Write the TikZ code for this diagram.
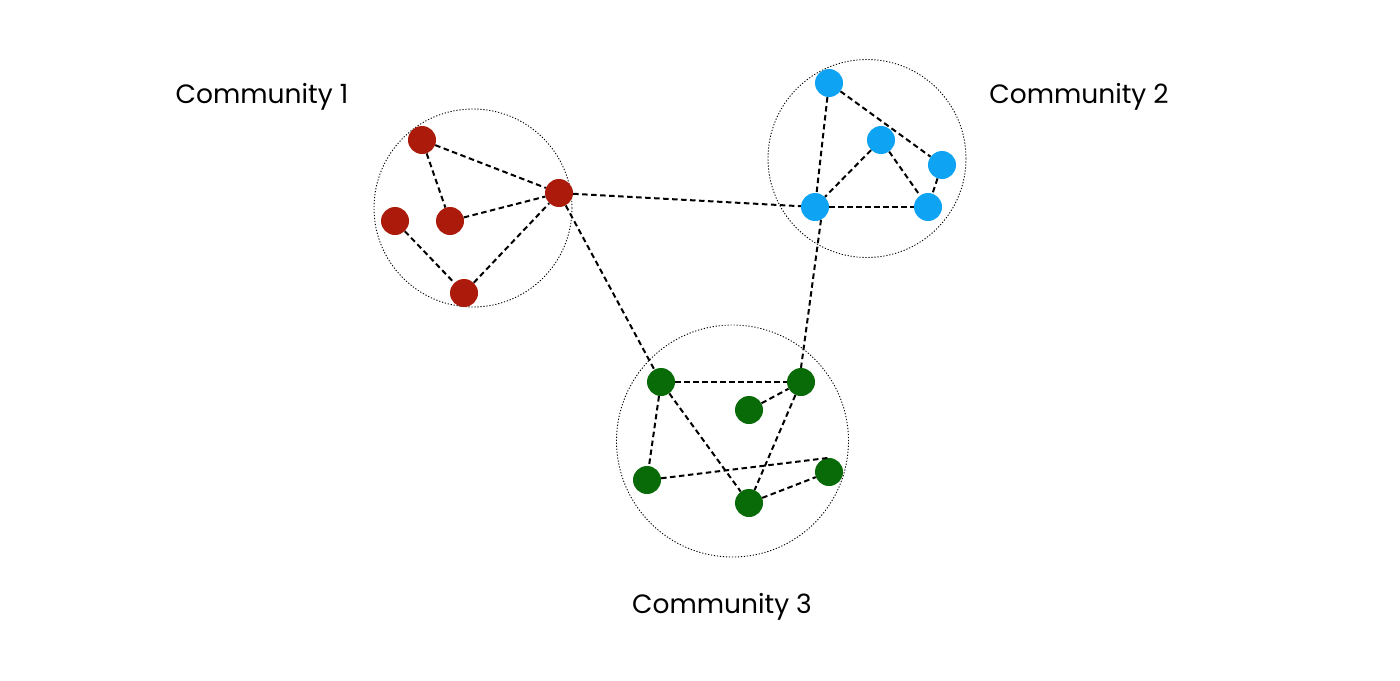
\documentclass[tikz,border=0pt]{standalone}
\usepackage{fontspec}
\setmainfont{Poppins}
\definecolor{cred}{RGB}{171,26,10}
\definecolor{cblue}{RGB}{14,163,243}
\definecolor{cgreen}{RGB}{8,107,8}
\tikzset{
  vert/.style={circle,minimum size=28pt,inner sep=0pt,fill=#1},
  edge/.style={line width=2pt,dash pattern=on 5.5pt off 3.5pt,black},
  hull/.style={line width=0.9pt,dash pattern=on 1.2pt off 1.8pt,black},
  lbl/.style={font=\fontsize{26.5}{30}\selectfont,text=black,anchor=base,inner sep=0pt}
}
\begin{document}
\begin{tikzpicture}[x=1pt,y=-1pt]
\useasboundingbox (0,0) rectangle (1400,680);
\fill[white] (0,0) rectangle (1400,680);
% hulls
\draw[hull] (473,208) circle (99pt);
\draw[hull] (867,158.5) circle (99pt);
\draw[hull] (732.5,441) circle (116pt);
% community 1
\node[vert=cred] (r1) at (422,140) {};
\node[vert=cred] (r2) at (395,221) {};
\node[vert=cred] (r3) at (450,221) {};
\node[vert=cred] (r4) at (464,293) {};
\node[vert=cred] (r5) at (559,193) {};
% community 2
\node[vert=cblue] (b1) at (829,83) {};
\node[vert=cblue] (b2) at (881,140) {};
\node[vert=cblue] (b3) at (942,165) {};
\node[vert=cblue] (b4) at (815,207) {};
\node[vert=cblue] (b5) at (928,207) {};
% community 3
\node[vert=cgreen] (g1) at (661,382) {};
\node[vert=cgreen] (g2) at (801,382) {};
\node[vert=cgreen] (g3) at (749,410) {};
\node[vert=cgreen] (g4) at (647,480) {};
\node[vert=cgreen] (g5) at (749,503) {};
\node[vert=cgreen] (g6) at (829,472) {};
% edges
\draw[edge] (r1) -- (r5);
\draw[edge] (r1) -- (r3);
\draw[edge] (r3) -- (r5);
\draw[edge] (r2) -- (r4);
\draw[edge] (r4) -- (r5);
\draw[edge] (b1) -- (b4);
\draw[edge] (b1) -- (b3);
\draw[edge] (b2) -- (b4);
\draw[edge] (b2) -- (b5);
\draw[edge] (b4) -- (b5);
\draw[edge] (b3) -- (b5);
\draw[edge] (g1) -- (g2);
\draw[edge] (g3) -- (g2);
\draw[edge] (g1) -- (g4);
\draw[edge] (g1) -- (g5);
\draw[edge] (g2) -- (g5);
\draw[edge] (g4) -- (g6.north);
\draw[edge] (g5) -- (g6);
\draw[edge] (r5) -- (b4);
\draw[edge] (r5) -- (g1);
\draw[edge] (b4.-65) -- (g2.north);
% labels
\node[lbl] (l1) at (262,103) {Community 1};
\node[lbl] (l2) at (1079,103) {Community 2};
\node[lbl] (l3) at (722,613) {Community 3};
\end{tikzpicture}
\end{document}
